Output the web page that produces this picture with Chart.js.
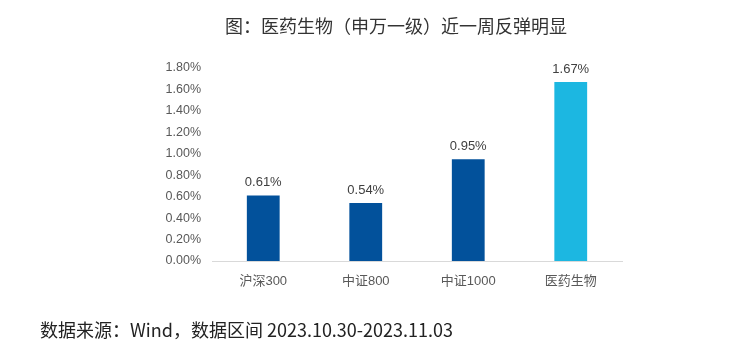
<!DOCTYPE html>
<html><head><meta charset="utf-8">
<script src="https://cdn.jsdelivr.net/npm/chart.js@4/dist/chart.umd.min.js"></script>
<style>
html,body{margin:0;padding:0;background:#fff;}
#wrap{position:relative;width:733px;height:358px;}
#c{position:absolute;left:0;top:0;}
.t{position:absolute;font-family:"Noto Sans CJK SC","Noto Sans",sans-serif;white-space:nowrap;line-height:26px;}
#title{left:225px;top:12px;font-size:18px;color:#333;}
#src{left:40px;top:316px;font-size:18px;color:#222;}
</style></head>
<body><div id="wrap">
<canvas id="c" width="733" height="358"></canvas>
<div id="title" class="t">图：医药生物（申万一级）近一周反弹明显</div>
<div id="src" class="t">数据来源：Wind，数据区间 2023.10.30-2023.11.03</div>
</div>
<script>
const categories = ["沪深300","中证800","中证1000","医药生物"];
const values = [0.61, 0.54, 0.95, 1.67];
const barColors = ["#02519B","#02519B","#02519B","#1CB7E1"];
const yTickValues = [0,0.2,0.4,0.6,0.8,1.0,1.2,1.4,1.6,1.8];

const labelPlugin = {
  id:'valLabels',
  afterDatasetsDraw(chart){
    const ctx = chart.ctx;
    const meta = chart.getDatasetMeta(0);
    ctx.save();
    ctx.font = '13px "Liberation Sans", Arial, sans-serif';
    ctx.fillStyle = '#404040';
    ctx.textAlign = 'center';
    ctx.textBaseline = 'middle';
    meta.data.forEach((el,i)=>{
      ctx.fillText(values[i].toFixed(2)+'%', el.x, el.y-13);
    });
    ctx.restore();
  }
};

new Chart(document.getElementById('c'),{
  type:'bar',
  data:{labels:categories,datasets:[{data:values,backgroundColor:barColors,categoryPercentage:1,barPercentage:0.32}]},
  options:{
    responsive:false,animation:false,
    layout:{padding:{left:140,right:111,top:68,bottom:0}},
    plugins:{legend:{display:false},tooltip:{enabled:false}},
    scales:{
      x:{
        grid:{display:false,drawTicks:false},
        border:{display:true,color:'#D9D9D9',width:1},
        ticks:{padding:13,color:'#595959',font:{size:13,family:'"Liberation Sans","Noto Sans CJK SC",sans-serif'}},
        afterFit(s){s.height=97;}
      },
      y:{
        min:0,max:1.8,
        afterBuildTicks(s){s.ticks=yTickValues.map(v=>({value:v}));},
        grid:{display:false,drawTicks:false},
        border:{display:false},
        ticks:{padding:11,color:'#595959',font:{size:12.5,family:'"Liberation Sans",Arial,sans-serif'},
          callback:v=>v.toFixed(2)+'%'},
        afterFit(s){s.width=72;}
      }
    }
  },
  plugins:[labelPlugin]
});
</script>
</body></html>
